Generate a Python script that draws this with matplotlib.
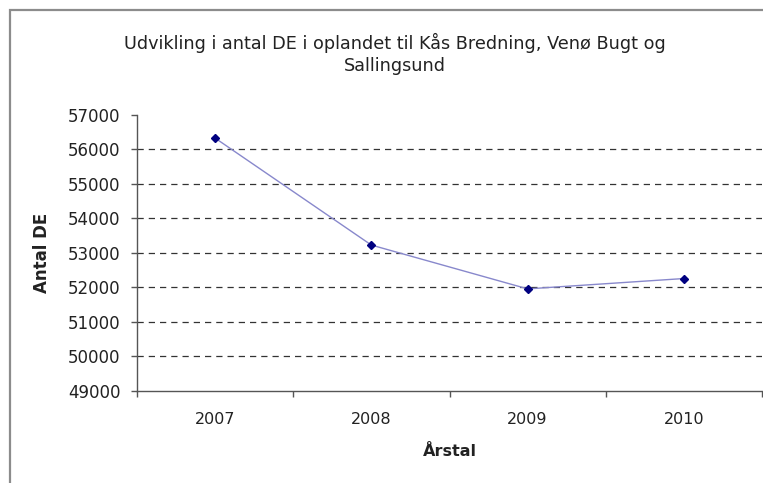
import matplotlib
matplotlib.use("Agg")
import matplotlib.pyplot as plt
from matplotlib.patches import Rectangle

years = ["2007", "2008", "2009", "2010"]
antal_de = [56330, 53230, 51960, 52260]
y_ticks = [49000, 50000, 51000, 52000, 53000, 54000, 55000, 56000, 57000]

plt.rcParams['font.family'] = ['DejaVu Sans']

W, H = 763, 483
fig = plt.figure(figsize=(W / 100, H / 100), dpi=100)
fig.patch.set_facecolor('white')

# outer chart frame (left and top visible)
fig.patches.append(Rectangle((10 / W, -0.2), 1.5, 1.2 - 10 / H,
                             transform=fig.transFigure, fill=False,
                             edgecolor='#8c8c8c', linewidth=1.6))

left, right, top, bottom = 137, 762, 115, 391
ax = fig.add_axes([left / W, 1 - bottom / H, (right - left) / W, (bottom - top) / H])

x = list(range(len(years)))
ax.plot(x, antal_de, color='#8888cc', linewidth=1.0, marker='D',
        markersize=4.5, markerfacecolor='#000080', markeredgecolor='#000080',
        zorder=3)

ax.set_xlim(-0.5, len(years) - 0.5)
ax.set_ylim(y_ticks[0], y_ticks[-1])
ax.set_yticks(y_ticks)
ax.set_yticklabels([str(v) for v in y_ticks])
ax.set_xticks(x)
ax.set_xticklabels(years)
ax.set_xticks([i - 0.5 for i in range(len(years) + 1)], minor=True)

ax.tick_params(axis='x', which='major', length=0, pad=15, labelsize=11.5, colors='#222222')
ax.tick_params(axis='x', which='minor', length=4, width=1, color='#555555', direction='out')
ax.tick_params(axis='y', which='major', length=4, width=1, color='#555555',
               direction='out', pad=8, labelsize=12, labelcolor='#222222')

for s in ['top', 'right']:
    ax.spines[s].set_visible(False)
for s in ['left', 'bottom']:
    ax.spines[s].set_color('#555555')
    ax.spines[s].set_linewidth(1.0)

# dashed gridlines between the ends
for v in y_ticks[1:-1]:
    ax.axhline(v, color='#333333', linestyle=(0, (5, 4)), linewidth=0.9, zorder=1)

ax.set_ylabel('Antal DE', fontsize=12, fontweight='bold', color='#222222')
ax.yaxis.set_label_coords((42 - left) / (right - left), 0.5)
ax.set_xlabel('Årstal', fontsize=11.5, fontweight='bold', color='#222222')
ax.xaxis.set_label_coords(0.5, -(452 - bottom) / (bottom - top))
ax.xaxis.label.set_va('center')
ax.yaxis.label.set_va('center')

fig.text(395 / W, 1 - 54 / H,
         'Udvikling i antal DE i oplandet til Kås Bredning, Venø Bugt og\nSallingsund',
         ha='center', va='center', fontsize=12.7, color='#222222', linespacing=1.3)

fig.savefig('out.png', dpi=100, facecolor='white')
